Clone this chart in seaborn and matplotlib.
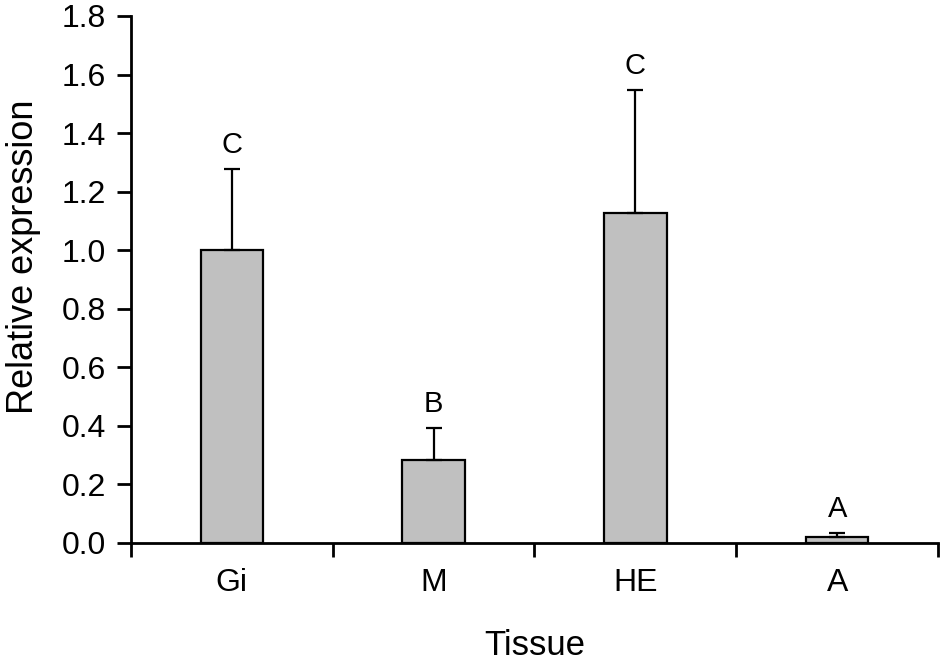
import numpy as np
import pandas as pd
import seaborn as sns
import matplotlib.pyplot as plt
from matplotlib.ticker import FixedLocator, FormatStrFormatter

# Data
tissues = ["Gi", "M", "HE", "A"]
expression = [1.0, 0.285, 1.128, 0.02]
errors = [0.277, 0.109, 0.42, 0.014]
letters = ["C", "B", "C", "A"]

sns.set_theme(style="ticks")
plt.rcParams['font.family'] = ['Liberation Sans', 'DejaVu Sans']
plt.rcParams['text.color'] = 'black'
plt.rcParams['axes.labelcolor'] = 'black'
plt.rcParams['xtick.color'] = 'black'
plt.rcParams['ytick.color'] = 'black'

df = pd.DataFrame({"Tissue": tissues, "Expression": expression})

fig = plt.figure(figsize=(9.45, 6.63), dpi=100)
ax = fig.add_axes([0.1386, 0.181, 0.8540, 0.7949])

sns.barplot(data=df, x="Tissue", y="Expression", color="#c0c0c0",
            width=0.31, edgecolor="black", linewidth=1.6, saturation=1,
            errorbar=None, ax=ax)

xpos = np.arange(len(tissues))
ax.errorbar(xpos, expression, yerr=[np.zeros(len(errors)), errors],
            fmt="none", ecolor="black", elinewidth=1.6, capsize=6,
            capthick=1.6, zorder=1)

for x, top, lab in zip(xpos, np.array(expression) + np.array(errors), letters):
    ax.text(x, top + 0.055, lab, ha="center", va="baseline", fontsize=21)

ax.set_xlim(-0.5, len(tissues) - 0.5)
ax.set_ylim(0, 1.8)
ax.set_yticks(np.arange(0, 1.81, 0.2))
ax.yaxis.set_major_formatter(FormatStrFormatter("%.1f"))
ax.xaxis.set_minor_locator(FixedLocator(np.arange(-0.5, len(tissues), 1.0)))
ax.tick_params(axis="x", which="major", length=0, pad=18, labelsize=23)
ax.tick_params(axis="x", which="minor", length=10, width=2, direction="out")
ax.tick_params(axis="y", length=10, width=2, labelsize=23, pad=8)

ax.set_xlabel("Tissue", fontsize=25, labelpad=22)
ax.set_ylabel("Relative expression", fontsize=26)
ax.yaxis.set_label_coords(-0.112, 0.543)

sns.despine(ax=ax)
for side in ["left", "bottom"]:
    ax.spines[side].set_linewidth(2)
    ax.spines[side].set_color("black")

plt.savefig("out.png", dpi=100)
plt.close()
